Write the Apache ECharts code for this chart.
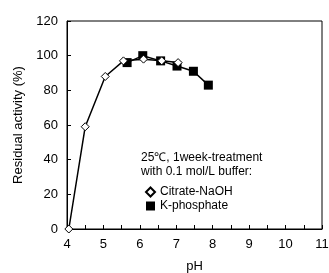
<!DOCTYPE html>
<html>
<head>
<meta charset="utf-8">
<script src="https://cdn.jsdelivr.net/npm/echarts@6/dist/echarts.min.js"></script>
<style>
  html, body { margin: 0; padding: 0; background: #fff; }
  #chart { width: 329px; height: 273px; }
</style>
</head>
<body>
<div id="chart"></div>
<script>
// Citrate-NaOH buffer (open diamonds)
const citratePH = [4.05, 4.5, 5.05, 5.55, 6.1, 6.6, 7.05]
const citrateAct = [0, 59, 88, 97, 98, 97, 96]
// K-phosphate buffer (filled squares)
const phosPH = [5.65, 6.08, 6.57, 7.02, 7.47, 7.88]
const phosAct = [96, 100, 97, 94, 91, 83]

const font = 'Liberation Sans, Arial, sans-serif'

function pairs(xs, ys) {
  return xs.map((x, i) => [x, ys[i]])
}

const myChart = echarts.init(document.getElementById('chart'))
const option = {
  animation: false,
  textStyle: { fontFamily: font },
  grid: {
    left: 67, right: 7, top: 21, bottom: 44,
    outerBoundsMode: 'none', containLabel: false,
    show: true, borderColor: '#000', borderWidth: 1
  },
  xAxis: {
    type: 'value', min: 4, max: 11, interval: 1,
    name: 'pH', nameLocation: 'middle', nameGap: 31,
    nameTextStyle: { color: '#000', fontSize: 13, fontFamily: font },
    axisLine: { lineStyle: { color: '#000', width: 1 } },
    axisTick: { inside: true, length: 4, lineStyle: { color: '#000' } },
    minorTick: { show: true, splitNumber: 2, length: 4, lineStyle: { color: '#000' } },
    axisLabel: { color: '#000', fontSize: 13, margin: 9, fontFamily: font },
    splitLine: { show: false }
  },
  yAxis: {
    type: 'value', min: 0, max: 120, interval: 20,
    name: 'Residual activity (%)', nameLocation: 'middle', nameGap: 42,
    nameTextStyle: { color: '#000', fontSize: 13, fontFamily: font },
    axisLine: { lineStyle: { color: '#000', width: 1 } },
    axisTick: { inside: true, length: 4, lineStyle: { color: '#000' } },
    axisLabel: { color: '#000', fontSize: 13, margin: 9, fontFamily: font },
    splitLine: { show: false }
  },
  legend: {
    orient: 'vertical', left: 140, top: 181,
    itemWidth: 9, itemHeight: 9, itemGap: 2,
    textStyle: { color: '#000', fontSize: 12, lineHeight: 12, fontFamily: font },
    data: [
      { name: 'Citrate-NaOH', icon: 'diamond' },
      { name: 'K-phosphate', icon: 'rect' }
    ]
  },
  graphic: [
    {
      type: 'text', left: 141, top: 151,
      style: { text: '25℃, 1week-treatment\nwith 0.1 mol/L buffer:', fill: '#000', font: '12px ' + font, lineHeight: 14 }
    }
  ],
  series: [
    {
      name: 'Citrate-NaOH', type: 'line', data: pairs(citratePH, citrateAct),
      symbol: 'diamond', symbolSize: 8,
      lineStyle: { color: '#000', width: 1.5 },
      itemStyle: { color: '#fff', borderColor: '#000', borderWidth: 1 },
      z: 3
    },
    {
      name: 'K-phosphate', type: 'line', data: pairs(phosPH, phosAct),
      symbol: 'rect', symbolSize: 9,
      lineStyle: { color: '#000', width: 1.5 },
      itemStyle: { color: '#000' },
      z: 2
    }
  ]
}
myChart.setOption(option)
</script>
</body>
</html>
